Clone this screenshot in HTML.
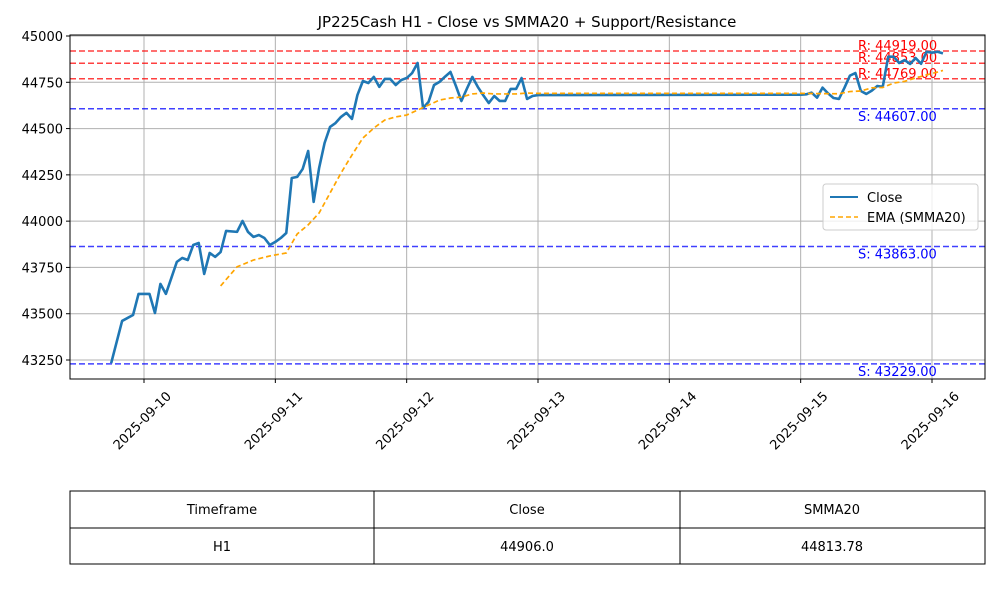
<!DOCTYPE html>
<html><head><meta charset="utf-8">
<style>
body{margin:0;background:#fff;font-family:"Liberation Sans","DejaVu Sans",sans-serif;}
svg text{font-family:"DejaVu Sans","Liberation Sans",sans-serif;}
</style></head>
<body>
<svg id="chart" width="1000" height="600" xmlns="http://www.w3.org/2000/svg">
<rect width="1000" height="600" fill="#fff"/>
<text x="527" y="27" font-size="15" text-anchor="middle">JP225Cash H1 - Close vs SMMA20 + Support/Resistance</text>
<g id="grid"></g>
<g id="levels"></g>
<g id="series"></g>
<rect x="70" y="35" width="915" height="344" fill="none" stroke="#000" stroke-width="1"/>
<g id="axes"></g>
<g>
<rect x="823" y="184" width="155" height="46" rx="3" fill="#fff" fill-opacity="0.8" stroke="#ccc"/>
<line x1="830" y1="197" x2="858" y2="197" stroke="#1f77b4" stroke-width="2"/>
<text x="867" y="202" font-size="13">Close</text>
<line x1="830" y1="217" x2="858" y2="217" stroke="orange" stroke-width="1.5" stroke-dasharray="5,3"/>
<text x="867" y="222" font-size="13">EMA (SMMA20)</text>
</g>
<g font-size="13" text-anchor="middle">
<rect x="70" y="491" width="915" height="73" fill="none" stroke="#000"/>
<line x1="70" y1="528" x2="985" y2="528" stroke="#000"/>
<line x1="374" y1="491" x2="374" y2="564" stroke="#000"/>
<line x1="680" y1="491" x2="680" y2="564" stroke="#000"/>
<text x="222" y="514">Timeframe</text><text x="527" y="514">Close</text><text x="832" y="514">SMMA20</text>
<text x="222" y="551">H1</text><text x="527" y="551">44906.0</text><text x="832" y="551">44813.78</text>
</g>
</svg>
<script>
// hours since 2025-09-10 00:00
const closeHours=[-6,-4,-2,-1,1,2,3,4,5,6,7,8,9,10,11,12,13,14,15,17,18,19,20,21,22,23,24,25,26,27,28,29,30,31,32,33,34,35,36,37,38,39,40,41,42,43,44,45,46,47,48,49,50,51,52,53,54,55,56,57,58,59,60,61,62,63,64,65,66,67,68,69,70,71,72,120,121,122,123,124,125,126,127,128,129,130,131,132,133,134,135,136,137,138,139,140,141,142,143,144,145,146];
const closeVals=[43233,43461,43493,43607,43607,43504,43661,43607,43693,43780,43801,43790,43871,43882,43715,43828,43807,43833,43947,43942,44001,43942,43915,43925,43909,43871,43888,43909,43936,44233,44239,44282,44379,44104,44287,44422,44509,44530,44563,44585,44552,44681,44757,44746,44779,44725,44768,44768,44735,44762,44773,44800,44854,44611,44644,44735,44752,44780,44806,44730,44649,44715,44779,44725,44680,44638,44676,44649,44649,44714,44714,44773,44660,44676,44681,44683,44685,44694,44667,44721,44690,44665,44660,44720,44786,44800,44703,44687,44705,44730,44726,44888,44888,44854,44870,44849,44881,44850,44915,44910,44915,44906];
const smmaHours=[14,17,20,23,26,28,30,32,34,36,38,40,42,44,46,48,50,52,54,56,58,60,62,64,66,68,70,72,120,127,129,131,133,135,137,139,141,143,145,146];
const smmaVals=[43650,43753,43790,43812,43828,43931,43980,44044,44152,44260,44357,44449,44503,44546,44563,44573,44600,44627,44654,44665,44670,44687,44692,44687,44687,44687,44692,44690,44690,44688,44700,44703,44720,44722,44746,44755,44773,44790,44805,44814];
const resistance=[44919,44853,44769];
const support=[44607,43863,43229];
const yTicks=[43250,43500,43750,44000,44250,44500,44750,45000];
const xTickHours=[0,24,48,72,96,120,144];
const xTickLabels=["2025-09-10","2025-09-11","2025-09-12","2025-09-13","2025-09-14","2025-09-15","2025-09-16"];

const NS="http://www.w3.org/2000/svg";
const X=h=>144+h*(788/144);
const Y=v=>36+(45000-v)*(324/1750);
function mk(tag,attrs,parent){const e=document.createElementNS(NS,tag);for(const k in attrs)e.setAttribute(k,attrs[k]);parent.appendChild(e);return e;}
const grid=document.getElementById('grid'),axes=document.getElementById('axes'),lev=document.getElementById('levels'),ser=document.getElementById('series');
yTicks.forEach(v=>{
  const l=mk('line',{x1:70,x2:985,y1:Y(v),y2:Y(v),stroke:'#b0b0b0','stroke-width':1},grid);
  
  
  mk('line',{x1:66,x2:70,y1:Y(v),y2:Y(v),stroke:'#000'},axes);
  const t=mk('text',{x:63,y:Y(v)+5,'font-size':13,'text-anchor':'end'},axes);
  t.textContent=v;
  
  
});
xTickHours.forEach((h,i)=>{
  const l=mk('line',{x1:X(h),x2:X(h),y1:35,y2:379,stroke:'#b0b0b0','stroke-width':1},grid);
  
  
  mk('line',{x1:X(h),x2:X(h),y1:379,y2:383,stroke:'#000'},axes);
  const tx=X(h)+28, ty=397;
  const t=mk('text',{x:tx,y:ty,'font-size':13,'text-anchor':'end',transform:`rotate(-45 ${tx} ${ty})`},axes);
  t.textContent=xTickLabels[i];
  
  
});
resistance.forEach(v=>{
  const l=mk('line',{x1:70,x2:985,y1:Y(v),y2:Y(v),stroke:'#ff0000','stroke-opacity':0.75,'stroke-width':1.5,'stroke-dasharray':'6,3'},lev);
  
  
  const t=mk('text',{x:858,y:Y(v)-1,'font-size':13,fill:'red'},lev);
  t.textContent='R: '+v.toFixed(2);
  
  
});
support.forEach(v=>{
  const l=mk('line',{x1:70,x2:985,y1:Y(v),y2:Y(v),stroke:'#0000ff','stroke-opacity':0.75,'stroke-width':1.5,'stroke-dasharray':'6,3'},lev);
  
  
  const t=mk('text',{x:858,y:Y(v)+12,'font-size':13,fill:'blue'},lev);
  t.textContent='S: '+v.toFixed(2);
  
  
});
const cl=mk('polyline',{points:closeHours.map((h,i)=>X(h)+','+Y(closeVals[i])).join(' '),fill:'none',stroke:'#1f77b4','stroke-width':2.6,'stroke-linejoin':'round'},ser);


const sl=mk('polyline',{points:smmaHours.map((h,i)=>X(h)+','+Y(smmaVals[i])).join(' '),fill:'none',stroke:'orange','stroke-width':1.7,'stroke-dasharray':'5,3'},ser);


</script>
</body></html>
